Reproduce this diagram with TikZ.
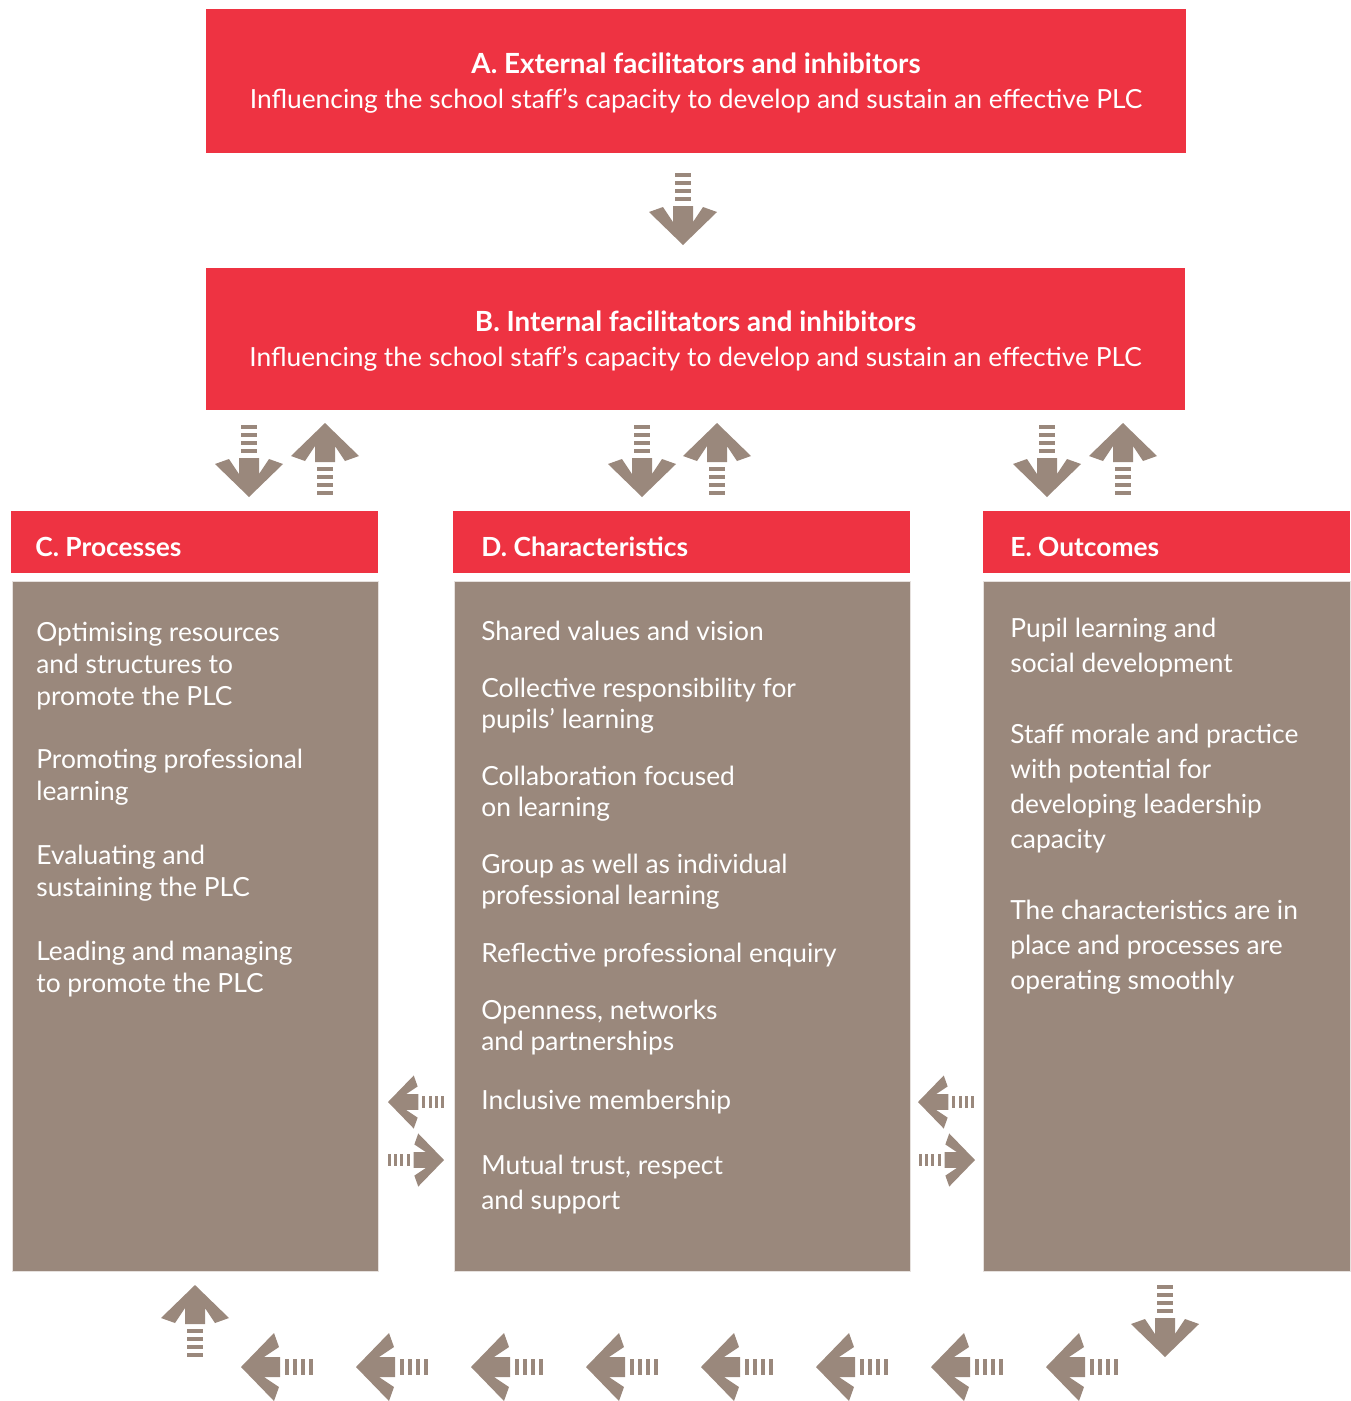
\documentclass[tikz,border=0pt]{standalone}
\usepackage{fontspec}
\setmainfont{Lato}
\usetikzlibrary{fit}

\definecolor{plcred}{RGB}{238,51,66}
\definecolor{plcbrown}{RGB}{154,136,124}

\tikzset{
  redbox/.style={fill=plcred, inner sep=0pt, outer sep=0pt},
  brownbox/.style={fill=plcbrown, draw=plcbrown!25!white, line width=0.5pt, inner sep=0pt, outer sep=0pt},
  titletext/.style={text=white, align=center, font=\fontsize{15}{20.2}\selectfont},
  headtext/.style={text=white, anchor=base west, inner sep=0pt, font=\bfseries\fontsize{15}{17}\selectfont},
  % base of a multi-line node = baseline of its last line
  itemtext/.style={text=white, anchor=base west, align=left, inner sep=0pt, font=\fontsize{15}{18.2}\selectfont},
  flowarrow/.pic={
    \fill[plcbrown] (0,0) -- (-34,-33) -- (-20,-38) -- (-10,-23) -- (-10,-39)
      -- (10,-39) -- (10,-23) -- (20,-38) -- (34,-33) -- cycle;
    \foreach \s in {44,52,60,68}
      \fill[plcbrown] (-8,-\s) rectangle (8,-\s-4);
  }
}

\begin{document}
\begin{tikzpicture}[x=0.02cm, y=-0.02cm]
\useasboundingbox (0,0) rectangle (1351,1401);

% top boxes
\node[redbox, fit={(206,9) (1186,153)}] (boxA) {};
\node[titletext] (textA) at ([yshift=-0.04cm]boxA.center) {{\bfseries\fontsize{15.8}{20.2}\selectfont A. External facilitators and inhibitors}\\Influencing the school staff’s capacity to develop and sustain an effective PLC};
\node[redbox, fit={(206,268) (1185,410)}] (boxB) {};
\node[titletext] (textB) at ([yshift=-0.04cm]boxB.center) {{\bfseries\fontsize{15.8}{20.2}\selectfont B. Internal facilitators and inhibitors}\\Influencing the school staff’s capacity to develop and sustain an effective PLC};

% column boxes
\node[redbox, fit={(11,511) (378,573)}] (headC) {};
\node[brownbox, fit={(12,581) (378,1271)}] (bodyC) {};
\node[redbox, fit={(453,511) (910,573)}] (headD) {};
\node[brownbox, fit={(454,581) (910,1271)}] (bodyD) {};
\node[redbox, fit={(983,511) (1350,573)}] (headE) {};
\node[brownbox, fit={(983,581) (1350,1271)}] (bodyE) {};

\node[headtext] (titleC) at (35,556) {C. Processes};
\node[headtext] (titleD) at (481,556) {D. Characteristics};
\node[headtext] (titleE) at (1010,556) {E. Outcomes};

% processes
\node[itemtext] (c1) at (36,705) {Optimising resources\\and structures to\\promote the PLC};
\node[itemtext] (c2) at (36,800) {Promoting professional\\learning};
\node[itemtext] (c3) at (36,896) {Evaluating and\\sustaining the PLC};
\node[itemtext] (c4) at (36,992) {Leading and managing\\to promote the PLC};

% characteristics
\tikzset{itemtext/.append style={font=\fontsize{15}{17.1}\selectfont}}
\node[itemtext] (d1) at (481,640) {Shared values and vision};
\node[itemtext] (d2) at (481,728) {Collective responsibility for\\pupils’ learning};
\node[itemtext] (d3) at (481,816) {Collaboration focused\\on learning};
\node[itemtext] (d4) at (481,904) {Group as well as individual\\professional learning};
\node[itemtext] (d5) at (481,962) {Reflective professional enquiry};
\node[itemtext] (d6) at (481,1050) {Openness, networks\\and partnerships};
\node[itemtext] (d7) at (481,1109) {Inclusive membership};
\node[itemtext, font=\fontsize{15}{19.9}\selectfont] (d8) at (481,1209) {Mutual trust, respect\\and support};

% outcomes
\tikzset{itemtext/.append style={font=\fontsize{15}{19.9}\selectfont}}
\node[itemtext] (e1) at (1010,672) {Pupil learning and\\social development};
\node[itemtext] (e2) at (1010,848) {Staff morale and practice\\with potential for\\developing leadership\\capacity};
\node[itemtext] (e3) at (1010,989) {The characteristics are in\\place and processes are\\operating smoothly};

% arrows
\pic at (683,245) {flowarrow};
\pic at (249,497) {flowarrow};
\pic[rotate=180] at (325,423) {flowarrow};
\pic at (642,497) {flowarrow};
\pic[rotate=180] at (717,423) {flowarrow};
\pic at (1047,497) {flowarrow};
\pic[rotate=180] at (1123,423) {flowarrow};

\pic[rotate=-90, scale=.78] at (388,1102) {flowarrow};
\pic[rotate=90, scale=.78] at (444,1160) {flowarrow};
\pic[rotate=-90, scale=.78] at (918,1102) {flowarrow};
\pic[rotate=90, scale=.78] at (975,1160) {flowarrow};

\pic[rotate=180] at (195,1285) {flowarrow};
\pic at (1165,1357) {flowarrow};
\foreach \i in {0,...,7}
  \pic[rotate=-90] at (241+115*\i,1367) {flowarrow};
\end{tikzpicture}
\end{document}
